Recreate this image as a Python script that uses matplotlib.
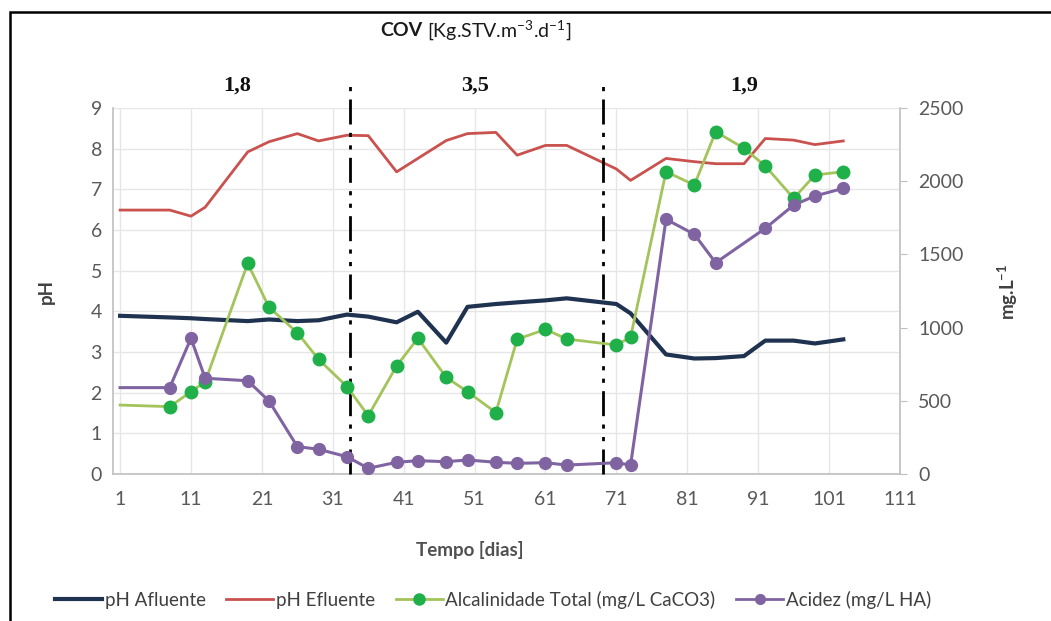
import matplotlib
matplotlib.use("Agg")
import matplotlib.pyplot as plt
from matplotlib.patches import Rectangle
from matplotlib.lines import Line2D

# ---------------- data ----------------
days = [1, 8, 11, 13, 19, 22, 26, 29, 33, 36, 40, 43, 47, 50, 54, 57, 61, 64,
        71, 73, 78, 82, 85, 89, 92, 96, 99, 103]
ph_afluente = [3.89, 3.85, 3.83, 3.81, 3.76, 3.80, 3.76, 3.78, 3.92, 3.87, 3.73,
               3.99, 3.23, 4.11, 4.18, 4.22, 4.27, 4.32, 4.18, 3.95, 2.94, 2.84,
               2.85, 2.90, 3.28, 3.28, 3.21, 3.31]
ph_efluente = [6.49, 6.49, 6.34, 6.56, 7.92, 8.17, 8.37, 8.19, 8.33, 8.32, 7.43,
               7.76, 8.20, 8.37, 8.40, 7.84, 8.08, 8.08, 7.50, 7.22, 7.76, 7.68,
               7.63, 7.63, 8.25, 8.21, 8.10, 8.19]

alc_days = [1, 8, 11, 13, 19, 22, 26, 29, 33, 36, 40, 43, 47, 50, 54, 57, 61, 64,
            71, 73, 78, 82, 85, 89, 92, 96, 99, 103]
alcalinidade = [471, 460, 562, 630, 1439, 1139, 965, 783, 597, 398, 738, 927, 660,
                562, 420, 920, 988, 922, 881, 934, 2065, 1974, 2338, 2225, 2104,
                1883, 2042, 2065]
alc_marker_days = [8, 11, 13, 19, 22, 26, 29, 33, 36, 40, 43, 47, 50, 54, 57, 61, 64,
                   71, 73, 78, 82, 85, 89, 92, 96, 99, 103]

acid_days = [1, 8, 11, 13, 19, 22, 26, 29, 33, 36, 40, 43, 47, 50, 54, 57, 61, 64,
             71, 73, 78, 82, 85, 92, 96, 99, 103]
acidez = [590, 590, 927, 654, 637, 499, 187, 169, 118, 39, 80, 91, 84, 96, 80, 73,
          77, 61, 77, 61, 1740, 1637, 1443, 1678, 1837, 1899, 1951]

cov_labels = ["1,8", "3,5", "1,9"]
cov_label_days = [17.5, 51, 89]
phase_limits = [33.4, 69.1]

x_ticks = [1, 11, 21, 31, 41, 51, 61, 71, 81, 91, 101, 111]
ph_ticks = [0, 1, 2, 3, 4, 5, 6, 7, 8, 9]
mg_ticks = [0, 500, 1000, 1500, 2000, 2500]

# ---------------- style ----------------
W, H = 1051, 621
FONT = ["Lato", "DejaVu Sans"]
plt.rcParams["font.family"] = FONT
plt.rcParams["mathtext.fontset"] = "custom"
plt.rcParams["mathtext.rm"] = "Lato"
plt.rcParams["mathtext.bf"] = "Lato:bold"
TICKC = "#595959"

fig = plt.figure(figsize=(W / 100, H / 100), dpi=100)


def fx(px):
    return px / W


def fy(py):
    return 1 - py / H


ax = fig.add_axes([fx(113), fy(474), fx(900) - fx(113), fy(108) - fy(474)])
ax2 = ax.twinx()

ax.set_xlim(0, 111)
ax.set_ylim(0, 9)
ax2.set_ylim(0, 2500)

ax.set_xticks(x_ticks)
ax.set_yticks(ph_ticks)
ax2.set_yticks(mg_ticks)
ax.grid(True, color="#e6e6e6", linewidth=1)
ax.set_axisbelow(True)

for a in (ax, ax2):
    for s in a.spines.values():
        s.set_visible(False)
ax.spines["left"].set_visible(True)
ax.spines["bottom"].set_visible(True)
ax2.spines["right"].set_visible(True)
for s in (ax.spines["left"], ax.spines["bottom"], ax2.spines["right"]):
    s.set_color("#bfbfbf")
    s.set_linewidth(1.2)

ax.tick_params(axis="both", length=0, labelsize=14, labelcolor=TICKC, pad=8)
ax.tick_params(axis="x", pad=12)
ax2.tick_params(axis="y", length=5, color="#bfbfbf", labelsize=14,
                labelcolor=TICKC, pad=8)

NAVY = "#1f3350"
RED = "#c9524f"
GLINE = "#a3c45a"
GMARK = "#1fb04a"
PURP = "#8064a2"

ax.plot(days, ph_afluente, color=NAVY, lw=3, zorder=4)
ax.plot(days, ph_efluente, color=RED, lw=2, zorder=4)

ax2.plot(alc_days, alcalinidade, color=GLINE, lw=2, zorder=3)
mk = [alcalinidade[alc_days.index(d)] for d in alc_marker_days]
ax2.plot(alc_marker_days, mk, ls="none", marker="o", ms=9, color=GMARK, zorder=4)
ax2.plot(acid_days, acidez, color=PURP, lw=2.2, zorder=3)
ax2.plot(acid_days[1:], acidez[1:], ls="none", marker="o", ms=8.5, color=PURP, zorder=4)

# phase separators (extend above plot)
for d in phase_limits:
    ax.plot([d, d], [0, 9.55], color="black", lw=2,
            ls=(0, (9, 3, 1.5, 3, 1.5, 3)), clip_on=False, zorder=6)

for lab, d in zip(cov_labels, cov_label_days):
    ax.text(d, 9.55, lab, ha="center", va="center", fontsize=16,
            fontweight="bold", family=["Liberation Serif", "DejaVu Serif"],
            color="#111111")

# axis labels
fig.text(fx(46), fy(292), "pH", rotation=90, ha="center", va="center",
         fontsize=13.5, fontweight="bold", color="#404040")
fig.text(fx(1008), fy(292), r"mg.L$^{\mathbf{-1}}$", rotation=90, ha="center",
         va="center", fontsize=13.5, fontweight="bold", color="#404040")
fig.text(fx(470), fy(550), "Tempo [dias]", ha="center", va="center",
         fontsize=13.5, fontweight="bold", color="#505050")

# COV header
fig.text(fx(422), fy(31), "COV", ha="right", va="center", fontsize=14,
         fontweight="bold", color="#1a1a1a")
fig.text(fx(427), fy(31), r"[Kg.STV.m$^{-3}$.d$^{-1}$]", ha="left", va="center",
         fontsize=14, color="#1a1a1a")

# legend
handles = [
    Line2D([], [], color=NAVY, lw=3),
    Line2D([], [], color=RED, lw=2),
    Line2D([], [], color=GLINE, lw=2, marker="o", mfc=GMARK, mec=GMARK, ms=8),
    Line2D([], [], color=PURP, lw=2, marker="o", ms=7),
]
labels = ["pH Afluente", "pH Efluente", "Alcalinidade Total (mg/L CaCO3)",
          "Acidez (mg/L HA)"]
fig.legend(handles, labels, loc="center", bbox_to_anchor=(fx(493), fy(600)),
           ncol=4, frameon=False, fontsize=13.5, handlelength=2.5,
           handletextpad=0.15, columnspacing=1.1, labelcolor="#404040")

# outer frame
fig.add_artist(Rectangle((fx(10), -0.05), 1.2, fy(12) + 0.05,
                         transform=fig.transFigure, fill=False,
                         edgecolor="black", lw=1.8))

fig.savefig("out.png", dpi=100)
